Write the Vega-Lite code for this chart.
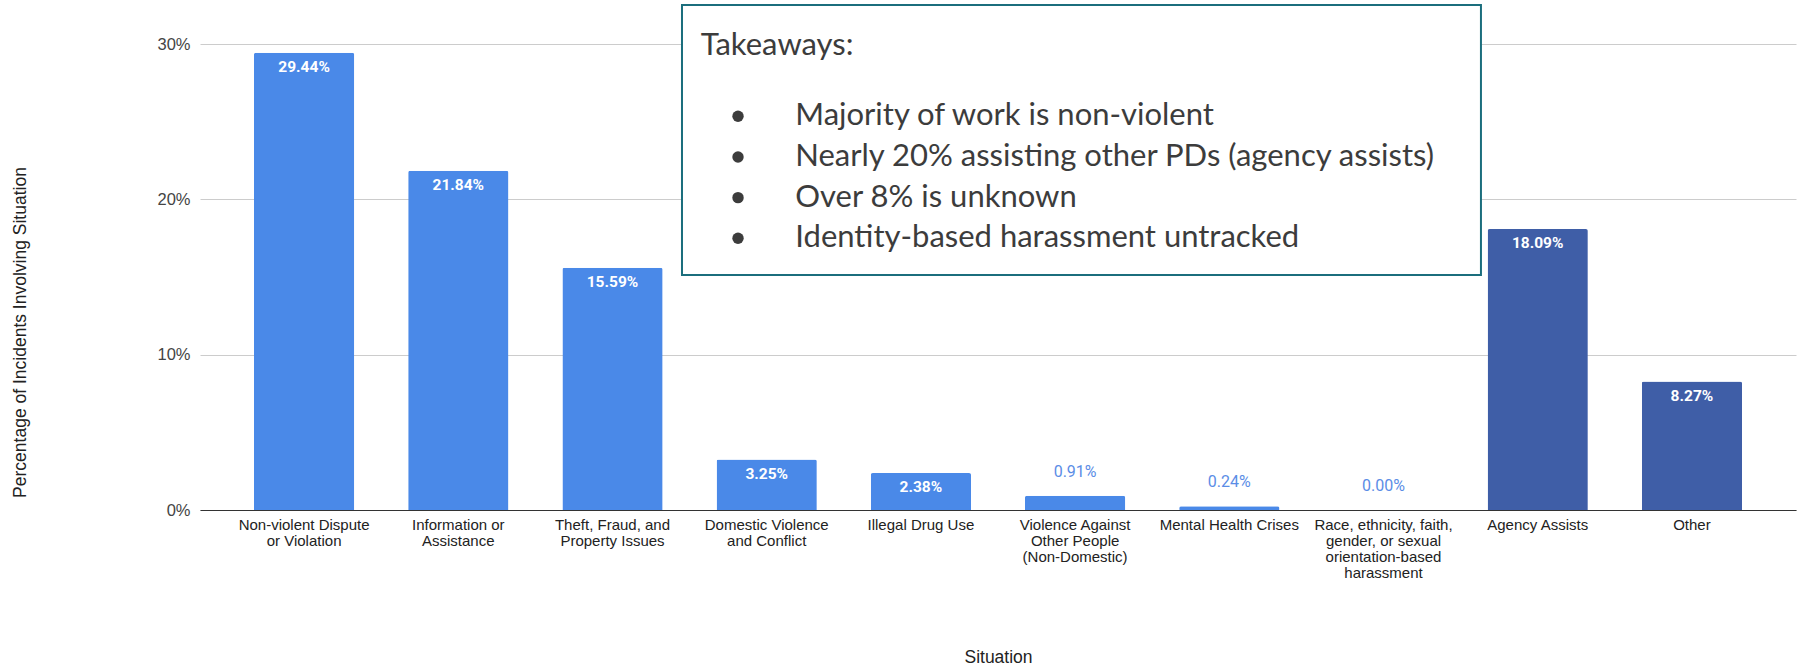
{
  "$schema": "https://vega.github.io/schema/vega-lite/v6.json",
  "width": 1596,
  "height": 466,
  "autosize": {"type": "none"},
  "padding": {"left": 200, "top": 44, "right": 9, "bottom": 156},
  "background": "white",
  "config": {
    "view": {"stroke": null},
    "font": "Liberation Sans"
  },
  "datasets": {
    "situations": [
      {"situation": "Non-violent Dispute or Violation", "pct": 0.2944, "kind": "Situation"},
      {"situation": "Information or Assistance", "pct": 0.2184, "kind": "Situation"},
      {"situation": "Theft, Fraud, and Property Issues", "pct": 0.1559, "kind": "Situation"},
      {"situation": "Domestic Violence and Conflict", "pct": 0.0325, "kind": "Situation"},
      {"situation": "Illegal Drug Use", "pct": 0.0238, "kind": "Situation"},
      {"situation": "Violence Against Other People (Non-Domestic)", "pct": 0.0091, "kind": "Situation"},
      {"situation": "Mental Health Crises", "pct": 0.0024, "kind": "Situation"},
      {"situation": "Race, ethnicity, faith, gender, or sexual orientation-based harassment", "pct": 0.0, "kind": "Situation"},
      {"situation": "Agency Assists", "pct": 0.1809, "kind": "Assist or other"},
      {"situation": "Other", "pct": 0.0827, "kind": "Assist or other"}
    ],
    "notes": [
      {"line": 0, "note": "Takeaways:"},
      {"line": 1, "note": "Majority of work is non-violent"},
      {"line": 2, "note": "Nearly 20% assisting other PDs (agency assists)"},
      {"line": 3, "note": "Over 8% is unknown"},
      {"line": 4, "note": "Identity-based harassment untracked"}
    ]
  },
  "layer": [
    {
      "data": {"name": "situations"},
      "encoding": {
        "x": {
          "field": "situation",
          "type": "nominal",
          "sort": null,
          "scale": {"paddingInner": 0.35, "paddingOuter": 0.35},
          "axis": {
            "title": "Situation",
            "titleFont": "Liberation Sans",
            "titleFontSize": 17.5,
            "titleFontWeight": "normal",
            "titleColor": "#222222",
            "titleY": 152,
            "titleBaseline": "alphabetic",
            "labelAngle": 0,
            "labelFont": "Liberation Sans",
            "labelFontSize": 15,
            "labelColor": "#222222",
            "labelLineHeight": 16,
            "labelBaseline": "top",
            "labelPadding": 7,
            "labelLimit": 0,
            "labelExpr": "datum.label == 'Non-violent Dispute or Violation' ? ['Non-violent Dispute', 'or Violation'] : datum.label == 'Information or Assistance' ? ['Information or', 'Assistance'] : datum.label == 'Theft, Fraud, and Property Issues' ? ['Theft, Fraud, and', 'Property Issues'] : datum.label == 'Domestic Violence and Conflict' ? ['Domestic Violence', 'and Conflict'] : datum.label == 'Violence Against Other People (Non-Domestic)' ? ['Violence Against', 'Other People', '(Non-Domestic)'] : datum.label == 'Race, ethnicity, faith, gender, or sexual orientation-based harassment' ? ['Race, ethnicity, faith,', 'gender, or sexual', 'orientation-based', 'harassment'] : datum.label",
            "ticks": false,
            "domainColor": "#333333",
            "domainWidth": 1.2,
            "grid": false
          }
        },
        "y": {
          "field": "pct",
          "type": "quantitative",
          "scale": {"domain": [0, 0.3], "nice": false},
          "axis": {
            "title": "Percentage of Incidents Involving Situation",
            "titleFont": "Liberation Sans",
            "titleFontSize": 17.5,
            "titleFontWeight": "normal",
            "titleColor": "#222222",
            "titleX": -180,
            "titleY": 288,
            "titleAngle": -90,
            "titleAlign": "center",
            "titleBaseline": "middle",
            "values": [0, 0.1, 0.2, 0.3],
            "format": ".0%",
            "labelFont": "Liberation Sans",
            "labelFontSize": 16.5,
            "labelColor": "#444444",
            "labelPadding": 10,
            "ticks": false,
            "domain": false,
            "grid": true,
            "gridColor": "#cccccc",
            "gridWidth": 1
          }
        }
      },
      "layer": [
        {
          "mark": {"type": "bar", "cornerRadiusTopLeft": 2, "cornerRadiusTopRight": 2},
          "encoding": {
            "color": {
              "field": "kind",
              "type": "nominal",
              "scale": {"domain": ["Situation", "Assist or other"], "range": ["#4a89e8", "#3f5ea7"]},
              "legend": null
            }
          }
        },
        {
          "transform": [{"filter": "datum.pct >= 0.02"}],
          "mark": {"type": "text", "dy": 14, "baseline": "middle", "align": "center", "color": "white", "font": "Roboto", "fontWeight": "bold", "fontSize": 15.5},
          "encoding": {"text": {"field": "pct", "type": "quantitative", "format": ".2%"}}
        },
        {
          "transform": [{"filter": "datum.pct < 0.02"}],
          "mark": {"type": "text", "dy": -24, "baseline": "middle", "align": "center", "color": "#5b8de6", "font": "Roboto", "fontSize": 16},
          "encoding": {"text": {"field": "pct", "type": "quantitative", "format": ".2%"}}
        }
      ]
    },
    {
      "data": {"name": "notes"},
      "layer": [
        {
          "data": {"values": [{}]},
          "mark": {"type": "rect", "fill": "white", "stroke": "#1b6e7d", "strokeWidth": 2},
          "encoding": {
            "x": {"datum": 0.302, "type": "quantitative", "scale": {"domain": [0, 1], "nice": false, "zero": false}, "axis": null},
            "x2": {"datum": 0.8026},
            "y": {"datum": -1.737, "type": "quantitative", "scale": {"domain": [-0.778, 10.68], "reverse": true, "nice": false, "zero": false}, "axis": null},
            "y2": {"datum": 4.902}
          }
        },
        {
          "transform": [{"filter": "datum.line == 0"}],
          "mark": {"type": "text", "align": "left", "baseline": "middle", "dy": -29.6, "font": "Lato", "fontSize": 31, "color": "#3c3c3c"},
          "encoding": {
            "x": {"datum": 0.3137, "type": "quantitative"},
            "y": {"field": "line", "type": "quantitative"},
            "text": {"field": "note"}
          }
        },
        {
          "transform": [{"filter": "datum.line > 0"}],
          "mark": {"type": "point", "shape": "circle", "filled": true, "size": 130, "opacity": 1, "color": "#3c3c3c"},
          "encoding": {
            "x": {"datum": 0.3371, "type": "quantitative"},
            "y": {"field": "line", "type": "quantitative"}
          }
        },
        {
          "transform": [{"filter": "datum.line > 0"}],
          "mark": {"type": "text", "align": "left", "baseline": "middle", "font": "Lato", "fontSize": 31, "color": "#3c3c3c"},
          "encoding": {
            "x": {"datum": 0.373, "type": "quantitative"},
            "y": {"field": "line", "type": "quantitative"},
            "text": {"field": "note"}
          }
        }
      ]
    }
  ],
  "resolve": {"scale": {"x": "independent", "y": "independent", "color": "independent"}}
}
